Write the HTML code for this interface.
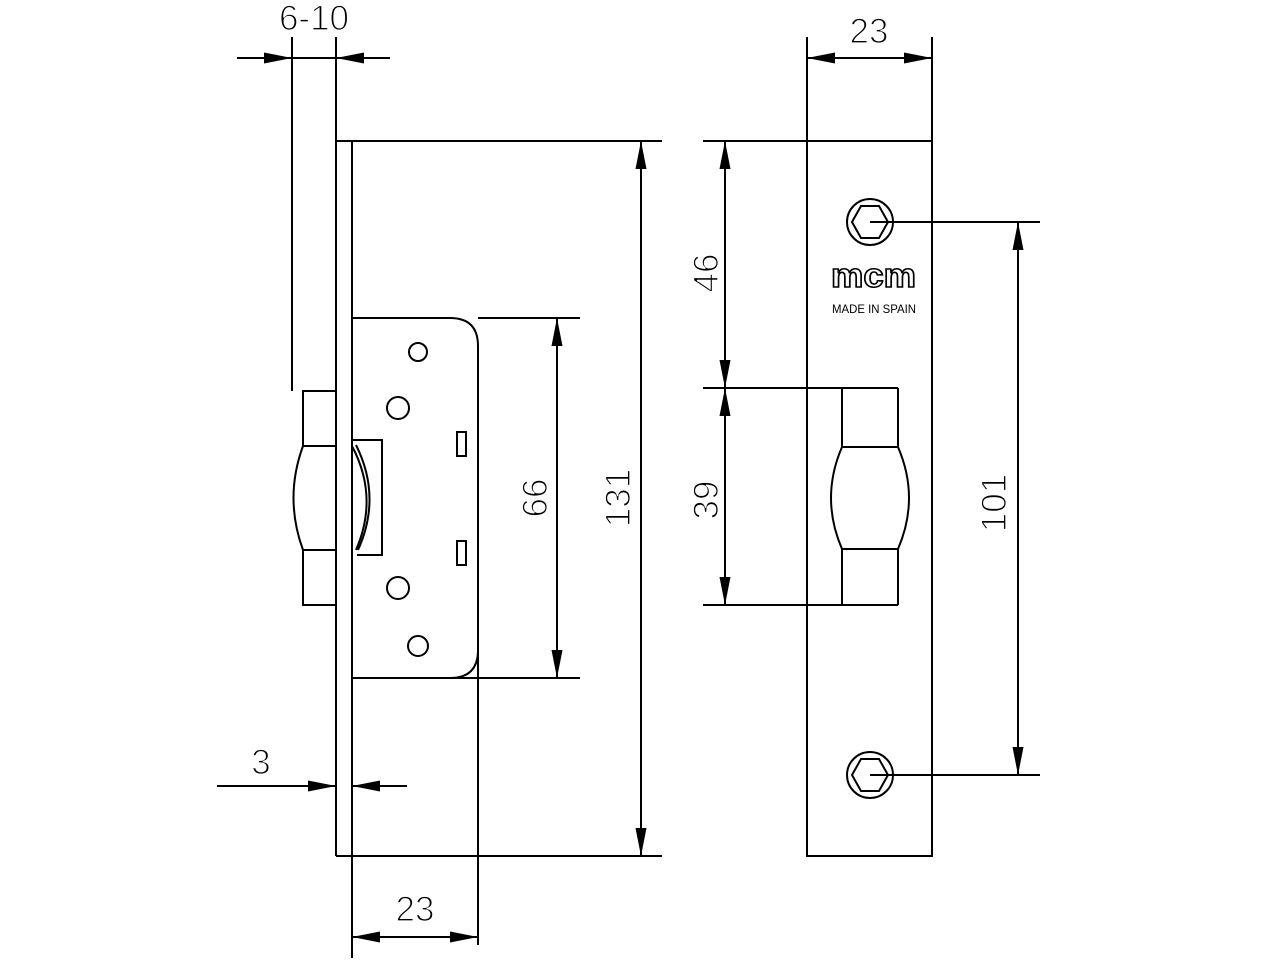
<!DOCTYPE html>
<html><head><meta charset="utf-8"><style>
html,body{margin:0;padding:0;background:#fff;}
svg{display:block;}
.d{font-family:"Liberation Sans",sans-serif;fill:#000;font-size:35px;stroke:#fff;stroke-width:1.3px;}
</style></head><body>
<svg width="1280" height="960" viewBox="0 0 1280 960" xmlns="http://www.w3.org/2000/svg">
<defs>
<marker id="a" viewBox="0 0 28 12" refX="28" refY="6" markerWidth="28" markerHeight="12" markerUnits="userSpaceOnUse" orient="auto-start-reverse">
<path d="M0,0.5 L28,6 L0,11.5 Z" fill="#000"/>
</marker>
</defs>
<g stroke="#000" stroke-width="2" fill="none">
<!-- LEFT VIEW -->
<line x1="292" y1="37" x2="292" y2="391"/>
<line x1="336" y1="37" x2="336" y2="856"/>
<line x1="336" y1="141" x2="662" y2="141"/>
<line x1="336" y1="856" x2="662" y2="856"/>
<line x1="352" y1="141" x2="352" y2="958"/>
<path d="M352,318 L450,318 Q478,318 478,346 L478,650 Q478,678 450,678 L352,678"/>
<line x1="478" y1="318" x2="580" y2="318"/>
<line x1="352" y1="678" x2="580" y2="678"/>
<line x1="478" y1="650" x2="478" y2="945"/>
<circle cx="418" cy="352" r="9"/>
<circle cx="398" cy="408" r="11"/>
<circle cx="398" cy="588" r="11"/>
<circle cx="418" cy="646" r="10"/>
<rect x="457" y="432" width="9" height="24"/>
<rect x="457" y="541" width="9" height="24"/>
<path d="M352,440 L382,440 L382,555 L357,555"/>
<path d="M352,446 Q379,497 356,550"/>
<path d="M356,445 Q382,497 358,550"/>
<path d="M335,391 L303,391 L303,446 L335,446"/>
<path d="M335,550 L303,550 L303,605 L335,605"/>
<path d="M303,446 Q284,498 303,550"/>
<line x1="237" y1="58" x2="292" y2="58" marker-end="url(#a)"/>
<line x1="292" y1="58" x2="336" y2="58"/>
<line x1="390" y1="58" x2="336" y2="58" marker-end="url(#a)"/>
<line x1="217" y1="786" x2="336" y2="786" marker-end="url(#a)"/>
<line x1="407" y1="786" x2="352" y2="786" marker-end="url(#a)"/>
<line x1="352" y1="937" x2="478" y2="937" marker-start="url(#a)" marker-end="url(#a)"/>
<line x1="557" y1="318" x2="557" y2="678" marker-start="url(#a)" marker-end="url(#a)"/>
<line x1="641" y1="141" x2="641" y2="856" marker-start="url(#a)" marker-end="url(#a)"/>
<!-- RIGHT VIEW -->
<rect x="807" y="141" width="125" height="715"/>
<line x1="807" y1="37" x2="807" y2="141"/>
<line x1="932" y1="37" x2="932" y2="141"/>
<line x1="807" y1="58" x2="932" y2="58" marker-start="url(#a)" marker-end="url(#a)"/>
<line x1="703" y1="141" x2="807" y2="141"/>
<line x1="703" y1="388" x2="898" y2="388"/>
<line x1="703" y1="605" x2="898" y2="605"/>
<line x1="725" y1="141" x2="725" y2="388" marker-start="url(#a)" marker-end="url(#a)"/>
<line x1="725" y1="388" x2="725" y2="605" marker-start="url(#a)" marker-end="url(#a)"/>
<path d="M842,388 L842,447 L898,447 L898,388"/>
<path d="M842,605 L842,549 L898,549 L898,605"/>
<path d="M842,447 Q820,498 842,549"/>
<path d="M898,447 Q920,498 898,549"/>
<circle cx="870" cy="222" r="23"/>
<polygon points="852,222 861,206 879,206 888,222 879,238 861,238"/>
<circle cx="870" cy="775" r="23"/>
<polygon points="852,775 861,759 879,759 888,775 879,791 861,791"/>
<line x1="870" y1="222" x2="1040" y2="222"/>
<line x1="870" y1="775" x2="1040" y2="775"/>
<line x1="1018" y1="222" x2="1018" y2="775" marker-start="url(#a)" marker-end="url(#a)"/>
</g>
<text x="831" y="287" textLength="85" lengthAdjust="spacingAndGlyphs" font-size="34" font-weight="bold" style="font-family:'Liberation Sans',sans-serif;fill:#fff;stroke:#000;stroke-width:1.6px">mcm</text>
<text x="832" y="313" textLength="84" lengthAdjust="spacingAndGlyphs" font-size="12" style="font-family:'Liberation Sans',sans-serif;fill:#000">MADE IN SPAIN</text>
<text class="d" x="314" y="30" text-anchor="middle">6-10</text>
<text class="d" x="261" y="774" text-anchor="middle">3</text>
<text class="d" x="415" y="921" text-anchor="middle">23</text>
<text class="d" x="869" y="43" text-anchor="middle">23</text>
<text class="d" transform="translate(547,498) rotate(-90)" text-anchor="middle">66</text>
<text class="d" transform="translate(630,498) rotate(-90)" text-anchor="middle">131</text>
<text class="d" transform="translate(718,273) rotate(-90)" text-anchor="middle">46</text>
<text class="d" transform="translate(718,500) rotate(-90)" text-anchor="middle">39</text>
<text class="d" transform="translate(1006,503) rotate(-90)" text-anchor="middle">101</text>
</svg>
</body></html>
